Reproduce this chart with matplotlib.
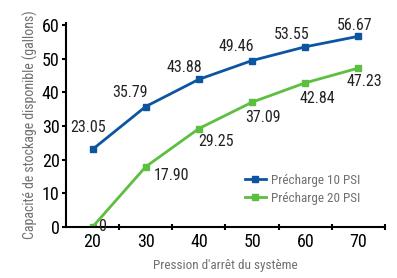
import matplotlib
matplotlib.use("Agg")
import matplotlib.pyplot as plt
from matplotlib import font_manager

names = {f.name for f in font_manager.fontManager.ttflist}
fam = [n for n in ["Liberation Sans Narrow", "Roboto Condensed", "DejaVu Sans Condensed", "Roboto"] if n in names] + ["DejaVu Sans"]
plt.rcParams['font.family'] = fam

categories = ["20", "30", "40", "50", "60", "70"]
precharge10 = [23.05, 35.79, 43.88, 49.46, 53.55, 56.67]
precharge20 = [0, 17.90, 29.25, 37.09, 42.84, 47.23]
labels10 = ["23.05", "35.79", "43.88", "49.46", "53.55", "56.67"]
labels20 = ["0", "17.90", "29.25", "37.09", "42.84", "47.23"]
series_names = ["Précharge 10 PSI", "Précharge 20 PSI"]
yticks = [0, 10, 20, 30, 40, 50, 60]

off10 = [(-4, 22), (-16, 14), (-15, 12), (-16, 14), (-14, 12), (-4, 11)]
off20 = [(10, 0), (26, -9), (17, -13), (11, -15), (12, -16), (6, -13)]

blue = "#0d55a0"
green = "#5cbf3f"
grey = "#707070"

fig = plt.figure(figsize=(3.97, 2.78), dpi=100)
ax = fig.add_axes([0.166, 0.1835, 0.804, 0.7335])
x = list(range(len(categories)))
ax.plot(x, precharge10, color=blue, lw=2, marker='s', ms=5, label=series_names[0])
ax.plot(x, precharge20, color=green, lw=2, marker='s', ms=5, label=series_names[1])

for xi, v, t, o in zip(x, precharge10, labels10, off10):
    ax.annotate(t, (xi, v), xytext=o, textcoords='offset pixels', ha='center', va='center',
                fontsize=11.5, color='#222222')
for xi, v, t, o in zip(x, precharge20, labels20, off20):
    ax.annotate(t, (xi, v), xytext=o, textcoords='offset pixels', ha='center', va='center',
                fontsize=11.5, color='#222222')

ax.set_xlim(-0.5, len(categories) - 0.5)
ax.set_ylim(0, 60.6)
ax.set_yticks(yticks)
ax.set_yticklabels([str(t) for t in yticks], fontsize=13)
ax.set_xticks([i + 0.5 for i in range(len(categories))])
ax.set_xticklabels([])
ax.set_xticks(x, minor=True)
ax.set_xticklabels(categories, minor=True, fontsize=13)
ax.tick_params(axis='x', which='minor', length=0, pad=4)
ax.tick_params(axis='x', which='major', direction='inout', length=5, width=1.5)
ax.tick_params(axis='y', direction='out', length=3, width=1.5, pad=1.5)
for s in ['top', 'right']:
    ax.spines[s].set_visible(False)
for s in ['left', 'bottom']:
    ax.spines[s].set_linewidth(1.5)
ax.set_xlabel("Pression d'arrêt du système", fontsize=9.5, color=grey, labelpad=6)
ax.set_ylabel("Capacité de stockage disponible (gallons)", fontsize=10, color=grey, labelpad=3)

leg = ax.legend(loc='upper left', bbox_to_anchor=(0.56, 0.26), frameon=False, fontsize=9.5,
                handlelength=1.6, handletextpad=0.4, labelspacing=0.35, labelcolor=grey,
                borderpad=0, borderaxespad=0)
fig.savefig("out.png", dpi=100)
